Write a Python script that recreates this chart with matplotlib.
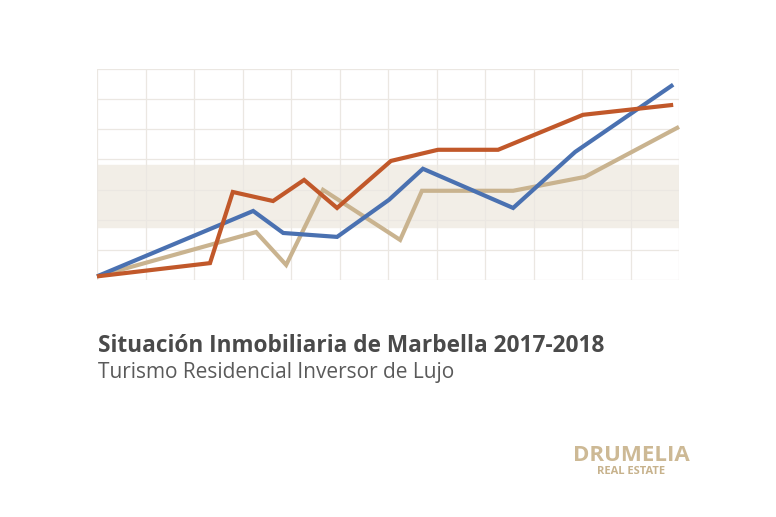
import matplotlib.pyplot as plt

# datos (x = periodo, y = indice)
naranja_x = [0, 2.33, 2.80, 3.63, 4.27, 4.95, 6.06, 7.03, 8.27, 10.02, 11.88]
naranja_y = [0.12, 0.56, 2.92, 2.62, 3.32, 2.39, 3.95, 4.32, 4.32, 5.48, 5.81]

azul_x = [0, 3.22, 3.84, 4.95, 6.02, 6.72, 8.58, 9.86, 11.88]
azul_y = [0.12, 2.29, 1.56, 1.43, 2.66, 3.69, 2.39, 4.25, 6.48]

beige_x = [0, 3.28, 3.90, 4.66, 6.25, 6.70, 8.58, 10.06, 12.0]
beige_y = [0.12, 1.59, 0.50, 2.99, 1.33, 2.96, 2.96, 3.42, 5.08]

banda = (1.75, 3.8)

titulo = 'Situación Inmobiliaria de Marbella 2017-2018'
subtitulo = 'Turismo Residencial Inversor de Lujo'

fig = plt.figure(figsize=(7.76, 5.17), dpi=100)
ax = fig.add_axes([97/776, 1 - 280/517, 582/776, 211/517])

ax.axhspan(banda[0], banda[1], color='#f2eee7', zorder=0)
ax.set_xlim(0, 12)
ax.set_ylim(0, 7)
ax.set_xticks(range(13))
ax.set_yticks(range(8))
ax.tick_params(length=0, labelbottom=False, labelleft=False)
ax.grid(True, color='#ebe7e2', linewidth=0.9, zorder=1)
ax.set_axisbelow(True)
for s in ax.spines.values():
    s.set_visible(False)

estilo = dict(linewidth=3.0, solid_joinstyle='miter', solid_capstyle='butt', clip_on=False, zorder=3)
ax.plot(beige_x, beige_y, color='#c9b38f', **estilo)
ax.plot(azul_x, azul_y, color='#4a71b1', **estilo)
ax.plot(naranja_x, naranja_y, color='#c1582a', **estilo)

fig.text(98/776, 1 - 352/517, titulo, fontsize=16.3, fontweight='bold',
         color='#4a4a4a', family='Open Sans', va='baseline')
fig.text(98/776, 1 - 378/517, subtitulo, fontsize=15, color='#5a5a5a',
         family='Open Sans', va='baseline')

# logo
fig.text(631/776, 1 - 461/517, 'DRUMELIA', fontsize=16, fontweight='bold',
         color='#cdb995', family='Open Sans', ha='center', va='baseline')
fig.text(631/776, 1 - 474/517, 'REAL ESTATE', fontsize=8, fontweight='bold',
         color='#c7b28c', family='Open Sans', ha='center', va='baseline')

fig.savefig('out.png', dpi=100, facecolor='white')
